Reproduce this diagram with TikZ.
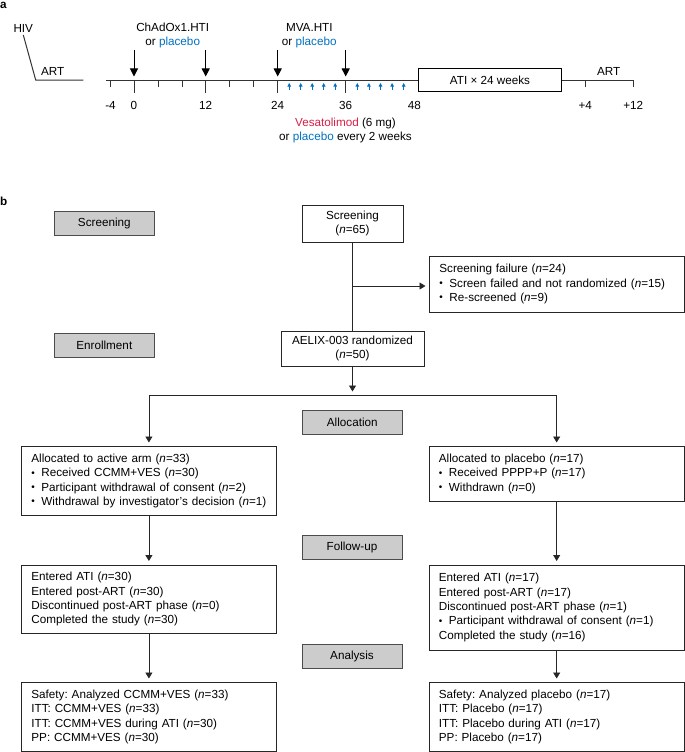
\documentclass[tikz,border=0pt]{standalone}
\usepackage{fontspec}
\setmainfont{Liberation Sans}
\usetikzlibrary{arrows.meta}
\definecolor{pblue}{RGB}{0,112,192}
\definecolor{vred}{RGB}{218,30,70}
\newcommand\myfs{\fontsize{11.7}{14.3}\selectfont}
\newcommand\bul{\makebox[10pt][l]{\raisebox{0.5pt}{\scalebox{0.85}{\textbullet}}}}
\newcommand\nn{\textit{n}}
\frenchspacing
\begin{document}
\begin{tikzpicture}[x=1pt,y=-1pt,font=\myfs,
  ln/.style={line width=0.8pt,draw=black!85},
  ax/.style={line width=1pt,draw=black!80},
  arr/.style={ln,-{Triangle[width=7pt,length=6pt]},shorten >=3.5pt},
  bigarr/.style={line width=1pt,draw=black,-{Triangle[width=8pt,length=8pt]}},
  smallarr/.style={line width=0.7pt,draw=pblue,-{Triangle[width=3.5pt,length=3.5pt]}},
  stage/.style={draw=black!70,fill=black!20,line width=1pt,minimum width=100pt,minimum height=24pt,inner sep=0pt},
  cbox/.style={ln,draw,align=center,inner sep=0pt},
  lbox/.style={ln,draw,align=left,inner xsep=10pt,inner ysep=0pt,anchor=north west},
  lbl/.style={inner sep=0pt}]
\useasboundingbox (0,0) rectangle (685,752);
% ---------- panel a ----------
\node[lbl,anchor=west,font=\myfs\bfseries] (pa) at (0,5) {a};
\node[lbl] (hiv) at (23.3,28.3) {HIV};
\node[lbl] (artl) at (52.7,71.7) {ART};
\draw[ax] (23.3,35) -- (35.7,80) -- (83.3,80);
\node[draw,line width=0.9pt,minimum width=143.4pt,minimum height=23.4pt,inner sep=0pt] (ati) at (490,80) {ATI × 24 weeks};
\draw[ax] (106,80) -- (ati.west);
\draw[ax] (ati.east) -- (633.3,80);
\node[lbl] (artr) at (608.7,71.7) {ART};
% ticks
\foreach \x in {110,158,182,229.5,253.3,585.3,633.3} \draw[ax] (\x,80) -- (\x,86.5);
\foreach \x in {134,205.7,277.7,345.7} \draw[ax] (\x,80) -- (\x,93);
% tick labels
\node[lbl] (tm4) at (110.5,105) {-4};
\node[lbl] (t0) at (134,105) {0};
\node[lbl] (t12) at (205.7,105) {12};
\node[lbl] (t24) at (277.7,105) {24};
\node[lbl] (t36) at (345.7,105) {36};
\node[lbl] (t48) at (414.3,105) {48};
\node[lbl] (tp4) at (585.3,105) {+4};
\node[lbl] (tp12) at (633.3,105) {+12};
% vaccination arrows
\foreach \x in {134,205.7,277.7,345.7} \draw[bigarr] (\x,50) -- (\x,76.5);
\node[lbl,align=center] (chad) at (172.7,35.5) {ChAdOx1.HTI\\or \textcolor{pblue}{placebo}};
\node[lbl,align=center] (mva) at (309.3,35.5) {MVA.HTI\\or \textcolor{pblue}{placebo}};
% vesatolimod arrows
\foreach \k in {1,...,5} {
  \draw[smallarr] (277.7+11.5*\k,90) -- (277.7+11.5*\k,83);
  \draw[smallarr] (345.7+11.6*\k,90) -- (345.7+11.6*\k,83);
}
\node[lbl,align=center] (ves) at (345.5,130.3) {\textcolor{vred}{Vesatolimod} (6 mg)\\or \textcolor{pblue}{placebo} every 2 weeks};
% ---------- panel b ----------
\node[lbl,anchor=west,font=\myfs\bfseries] (pb) at (0,201.7) {b};
\node[stage] (sScr) at (104.3,223.5) {Screening};
\node[stage] (sEnr) at (104.3,345.5) {Enrollment};
\node[stage] (sAll) at (352.3,422.5) {Allocation};
\node[stage] (sFol) at (352,547) {Follow-up};
\node[stage] (sAna) at (352,656.7) {Analysis};
\node[cbox,minimum width=101pt,minimum height=37pt] (scr) at (352.5,223.5) {Screening\\(\nn=65)};
\node[lbox,text width=235pt,minimum height=56pt] (fail) at (429,255.7)
  {Screening failure (\nn=24)\\\bul Screen failed and not randomized (\nn=15)\\\bul Re-screened (\nn=9)};
\node[cbox,minimum width=143pt,minimum height=35pt] (aelix) at (352.5,348.5) {AELIX-003 randomized\\(\nn=50)};
\node[lbox,text width=235pt,minimum height=69pt] (L1) at (21,446)
  {Allocated to active arm (\nn=33)\\\bul Received CCMM+VES (\nn=30)\\\bul Participant withdrawal of consent (\nn=2)\\\bul Withdrawal by investigator's decision (\nn=1)};
\node[lbox,text width=235.5pt,minimum height=55pt] (R1) at (428.5,446)
  {Allocated to placebo (\nn=17)\\\bul Received PPPP+P (\nn=17)\\\bul Withdrawn (\nn=0)};
\node[lbox,text width=235pt,minimum height=68.5pt] (L2) at (21,564.5)
  {Entered ATI (\nn=30)\\Entered post-ART (\nn=30)\\Discontinued post-ART phase (\nn=0)\\Completed the study (\nn=30)};
\node[lbox,text width=235.5pt,minimum height=85pt] (R2) at (428.5,564.5)
  {Entered ATI (\nn=17)\\Entered post-ART (\nn=17)\\Discontinued post-ART phase (\nn=1)\\\bul Participant withdrawal of consent (\nn=1)\\Completed the study (\nn=16)};
\node[lbox,text width=235pt,minimum height=69pt] (L3) at (21,682)
  {Safety: Analyzed CCMM+VES (\nn=33)\\ITT: CCMM+VES (\nn=33)\\ITT: CCMM+VES during ATI (\nn=30)\\PP: CCMM+VES (\nn=30)};
\node[lbox,text width=235.5pt,minimum height=69pt] (R3) at (428.5,682)
  {Safety: Analyzed placebo (\nn=17)\\ITT: Placebo (\nn=17)\\ITT: Placebo during ATI (\nn=17)\\PP: Placebo (\nn=17)};
% connectors
\coordinate (br) at (352.5,286);
\coordinate (split) at (352.5,395);
\draw[ln] (scr.south) -- (aelix.north);
\draw[arr] (br) -- (br -| fail.west);
\draw[arr] (aelix.south) -- (split);
\draw[ln] (split -| L1.north) -- (split -| R1.north);
\draw[arr] (split -| L1.north) -- (L1.north);
\draw[arr] (split -| R1.north) -- (R1.north);
\draw[arr] (L1.south) -- (L2.north);
\draw[arr] (L2.south) -- (L3.north);
\draw[arr] (R1.south) -- (R2.north);
\draw[arr] (R2.south) -- (R3.north);
\end{tikzpicture}
\end{document}
